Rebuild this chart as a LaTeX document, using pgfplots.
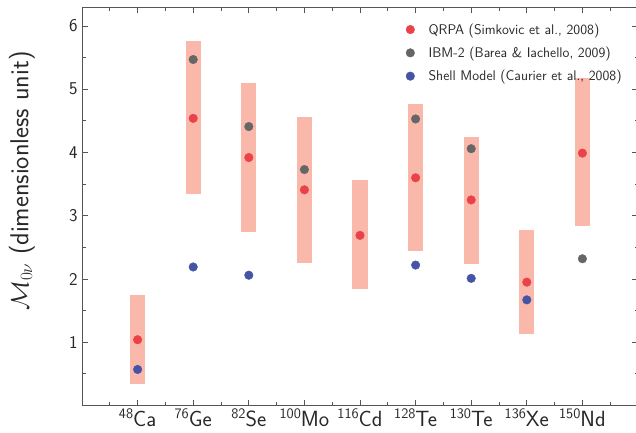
\documentclass[border=0pt]{standalone}
\usepackage{pgfplots}
\usepackage{pgfplotstable}
\pgfplotsset{compat=1.18}
\definecolor{barc}{RGB}{249,184,170}
\definecolor{qred}{RGB}{234,66,72}
\definecolor{igray}{RGB}{102,102,102}
\definecolor{sblue}{RGB}{70,84,166}
\definecolor{axgray}{RGB}{85,85,85}
\definecolor{txt}{RGB}{40,40,40}
\newcommand\iso[2]{\raisebox{7.6pt}{\fontsize{14.5}{14.5}\selectfont #1}#2}
\pgfplotstableread{
x lo hi
1 0.34 1.74
2 3.34 5.76
3 2.74 5.10
4 2.26 4.56
5 1.84 3.56
6 2.44 4.77
7 2.24 4.24
8 1.13 2.78
9 2.83 5.17
}\bars
\begin{document}
\begin{tikzpicture}
\begin{axis}[
  at={(82pt,26.5pt)}, anchor=south west,
  width=556pt, height=398.5pt, scale only axis,
  xmin=0, xmax=10, ymin=0, ymax=6.3,
  xtick={1,...,9},
  xticklabels={\iso{48}{Ca},\iso{76}{Ge},\iso{82}{Se},\iso{100}{Mo},\iso{116}{Cd},\iso{128}{Te},\iso{130}{Te},\iso{136}{Xe},\iso{150}{Nd}},
  minor xtick={0.5,1.5,...,9.5},
  ytick={1,...,6},
  minor ytick={0.5,1.5,...,5.5},
  tick align=inside,
  major tick length=6pt, minor tick length=3.5pt,
  axis line style={draw=axgray, line width=0.9pt},
  every tick/.style={draw=axgray, line width=0.8pt},
  /pgf/number format/assume math mode=true,
  yticklabel style={font=\sffamily\fontsize{18}{20}\selectfont, text=txt, xshift=-1pt},
  xticklabel style={font=\sffamily\fontsize{22}{24}\selectfont, text=txt},
  ylabel={$\mathcal{M}_{0\nu}$ (dimensionless unit)},
  ylabel style={font=\sffamily\fontsize{26}{30}\selectfont, text=txt, at={(axis description cs:-0.108,0.563)}, anchor=center},
  legend style={at={(axis description cs:0.577,0.969)}, anchor=north west, draw=none, fill=none,
    font=\sffamily\fontsize{14}{16}\selectfont, text=txt, row sep=7.3pt,
    /tikz/every odd column/.append style={column sep=12pt}},
  legend cell align=left,
  legend image code/.code={\draw[#1] plot coordinates {(0pt,0pt)};},
]
\addplot[draw=none, mark=none, forget plot,
  error bars/.cd, y dir=plus, y explicit, error mark=none,
  error bar style={draw=barc, line width=15.3pt}]
  table[x=x, y=lo, y error expr=\thisrow{hi}-\thisrow{lo}] {\bars};
\addplot[only marks, mark=*, mark size=4.3pt, color=qred] coordinates {
(1,1.04) (2,4.54) (3,3.92) (4,3.41) (5,2.69) (6,3.60) (7,3.25) (8,1.95) (9,3.99)};
\addlegendentry{QRPA (Simkovic et al., 2008)}
\addplot[only marks, mark=*, mark size=4.3pt, color=igray] coordinates {
(2,5.47) (3,4.41) (4,3.73) (6,4.53) (7,4.06) (9,2.32)};
\addlegendentry{IBM-2 (Barea \& Iachello, 2009)}
\addplot[only marks, mark=*, mark size=4.3pt, color=sblue] coordinates {
(1,0.57) (2,2.19) (3,2.06) (6,2.22) (7,2.01) (8,1.67)};
\addlegendentry{Shell Model (Caurier et al., 2008)}
\end{axis}
\pgfresetboundingbox
\path[use as bounding box] (0,0) rectangle (636pt,432pt);
\end{tikzpicture}
\end{document}
